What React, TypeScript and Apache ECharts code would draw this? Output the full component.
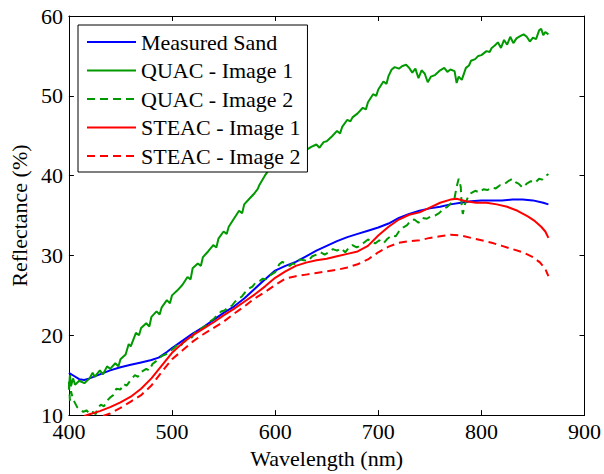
import React, { useEffect, useRef } from "react";
import * as echarts from "echarts";

const xTicks = [400, 500, 600, 700, 800, 900];
const yTicks = [10, 20, 30, 40, 50, 60];

const seriesNames = [
  "Measured Sand",
  "QUAC - Image 1",
  "QUAC - Image 2",
  "STEAC - Image 1",
  "STEAC - Image 2",
];

const measuredSand: [number, number][] = [
  [400, 15.3], [405, 14.9], [410, 14.5], [415, 14.4], [420, 14.6], [430, 15.1], [440, 15.6],
  [450, 16.0], [460, 16.3], [470, 16.6], [480, 16.9], [487, 17.2], [495, 17.9], [500, 18.4],
  [510, 19.3], [520, 20.2], [530, 21.0], [540, 21.9], [550, 22.8], [560, 23.6], [570, 24.6],
  [580, 25.8], [590, 27.0], [600, 28.1], [610, 28.7], [620, 29.2], [630, 29.9], [640, 30.6],
  [650, 31.2], [660, 31.8], [670, 32.3], [680, 32.7], [690, 33.1], [700, 33.5], [710, 34.0],
  [720, 34.7], [730, 35.2], [740, 35.6], [750, 35.9], [760, 36.1], [770, 36.4], [780, 36.6],
  [790, 36.8], [800, 36.9], [810, 36.9], [820, 36.9], [830, 37.0], [840, 37.0], [850, 36.9],
  [860, 36.6], [865, 36.4],
];

const quacImage1: [number, number][] = [
  [400, 13.2], [401, 15.0], [402, 13.6], [404, 14.6], [406, 13.8], [410, 14.3], [415, 14.0],
  [420, 14.6], [423, 15.3], [425, 14.8], [430, 15.6], [433, 15.1], [437, 16.1], [440, 15.8],
  [445, 16.5], [448, 16.1], [450, 17.0], [455, 17.6], [458, 18.9], [460, 18.6], [465, 20.3],
  [468, 20.0], [470, 20.9], [475, 21.5], [478, 21.1], [480, 22.3], [485, 23.0], [488, 22.6],
  [490, 23.5], [495, 24.4], [498, 24.0], [500, 25.0], [505, 25.6], [510, 26.3], [515, 27.3],
  [518, 27.0], [520, 28.4], [525, 29.0], [528, 28.7], [530, 29.8], [535, 30.5], [540, 31.3],
  [543, 31.0], [545, 32.1], [550, 33.0], [553, 32.7], [555, 33.6], [560, 34.6], [565, 35.6],
  [568, 35.3], [570, 36.4], [575, 37.1], [580, 37.8], [583, 38.3], [585, 38.9], [590, 40.0],
  [595, 40.9], [600, 41.6], [605, 42.3], [610, 42.7], [615, 42.9], [620, 43.3], [623, 42.9],
  [627, 43.4], [630, 43.2], [635, 43.6], [640, 43.9], [643, 43.5], [647, 44.2], [650, 44.3],
  [655, 44.9], [660, 45.6], [663, 45.3], [665, 46.1], [670, 47.0], [673, 46.8], [675, 47.3],
  [680, 47.8], [685, 48.5], [688, 48.3], [690, 49.2], [695, 50.2], [698, 50.0], [700, 50.8],
  [705, 51.8], [708, 51.5], [710, 52.5], [713, 53.3], [716, 53.6], [720, 53.4], [723, 53.7],
  [727, 53.9], [730, 53.5], [733, 52.9], [736, 53.4], [739, 52.2], [742, 53.2], [745, 52.8],
  [748, 51.7], [751, 52.4], [755, 52.6], [760, 53.2], [764, 53.5], [767, 53.0], [770, 53.3],
  [774, 53.1], [776, 51.6], [778, 52.4], [781, 52.0], [785, 53.5], [788, 53.8], [790, 54.4],
  [794, 54.6], [797, 55.0], [800, 55.1], [805, 55.6], [808, 55.5], [810, 56.0], [813, 56.3],
  [816, 56.7], [819, 56.0], [822, 57.0], [825, 56.4], [828, 57.4], [831, 56.6], [834, 57.2],
  [838, 57.5], [841, 57.7], [844, 57.4], [847, 56.8], [850, 57.3], [853, 57.1], [856, 58.2],
  [858, 58.4], [860, 57.6], [862, 58.0], [865, 57.7],
];

const quacImage2: [number, number][] = [
  [400, 14.2], [401, 11.8], [402, 13.0], [404, 12.0], [406, 11.5], [408, 11.0], [411, 10.7],
  [414, 10.4], [417, 10.6], [420, 10.2], [423, 10.4], [426, 10.1], [428, 10.9], [431, 11.3],
  [434, 11.1], [437, 11.8], [440, 12.2], [443, 12.5], [446, 13.3], [450, 13.2], [453, 13.9],
  [456, 13.7], [460, 14.4], [464, 15.0], [467, 14.8], [470, 15.4], [475, 15.8], [478, 15.6],
  [481, 16.4], [485, 16.8], [490, 17.4], [494, 17.6], [497, 18.0], [500, 18.2], [505, 18.8],
  [508, 18.6], [511, 19.1], [515, 19.5], [519, 19.7], [522, 20.3], [525, 20.5], [530, 21.0],
  [533, 21.2], [535, 21.6], [540, 22.0], [545, 22.7], [548, 23.0], [551, 23.1], [555, 23.6],
  [558, 23.7], [561, 24.2], [565, 24.6], [568, 24.9], [571, 25.4], [574, 25.8], [578, 26.1],
  [581, 26.6], [585, 26.8], [588, 27.1], [591, 27.0], [595, 27.5], [600, 27.9], [604, 28.9],
  [607, 29.2], [610, 29.0], [614, 28.7], [617, 29.0], [620, 28.9], [624, 29.5], [628, 29.4],
  [632, 29.3], [636, 29.9], [640, 30.1], [644, 30.4], [648, 30.1], [652, 30.4], [656, 30.8],
  [660, 30.6], [664, 30.9], [668, 30.4], [671, 30.9], [675, 31.3], [679, 31.0], [682, 31.2],
  [686, 31.6], [690, 32.0], [693, 31.8], [697, 31.5], [701, 31.9], [705, 31.5], [709, 32.1],
  [713, 32.5], [717, 32.4], [720, 33.0], [724, 33.5], [728, 33.8], [731, 34.3], [735, 34.5],
  [739, 34.1], [743, 34.7], [747, 34.6], [751, 34.9], [755, 35.0], [759, 35.3], [763, 35.8],
  [767, 36.1], [771, 36.6], [774, 37.2], [776, 38.6], [778, 39.6], [780, 38.6], [781, 36.0],
  [782, 35.2], [784, 36.4], [787, 37.3], [790, 37.8], [794, 38.1], [798, 37.9], [802, 38.3],
  [806, 38.2], [810, 38.5], [814, 38.4], [818, 38.8], [822, 38.9], [826, 39.3], [830, 39.6],
  [833, 39.2], [836, 39.0], [840, 38.5], [844, 39.0], [848, 39.3], [852, 39.1], [856, 39.6],
  [859, 39.5], [862, 39.9], [865, 40.2],
];

const steacImage1: [number, number][] = [
  [415, 9.9], [420, 10.1], [430, 10.5], [440, 11.0], [450, 11.6], [460, 12.3], [470, 13.3],
  [480, 14.6], [490, 16.2], [500, 17.8], [510, 19.0], [520, 20.0], [530, 20.8], [540, 21.6],
  [550, 22.5], [560, 23.3], [570, 24.2], [580, 25.1], [590, 26.1], [600, 27.2], [610, 28.0],
  [620, 28.7], [630, 29.1], [640, 29.4], [650, 29.6], [660, 29.9], [670, 30.2], [680, 30.5],
  [690, 31.2], [700, 32.5], [710, 33.6], [720, 34.5], [730, 35.1], [740, 35.4], [750, 36.0],
  [760, 36.6], [770, 37.0], [776, 37.1], [785, 36.8], [795, 36.6], [805, 36.6], [815, 36.4],
  [825, 36.1], [835, 35.6], [845, 34.9], [852, 34.3], [858, 33.6], [862, 33.0], [865, 32.2],
];

const steacImage2: [number, number][] = [
  [433, 9.9], [440, 10.2], [450, 10.9], [460, 11.7], [470, 12.5], [480, 13.7], [490, 15.4],
  [500, 17.0], [510, 18.1], [520, 19.2], [530, 20.1], [540, 20.9], [550, 21.7], [560, 22.7],
  [570, 23.6], [580, 24.6], [590, 25.4], [600, 26.3], [610, 27.1], [620, 27.4], [630, 27.6],
  [640, 27.8], [650, 28.0], [660, 28.2], [670, 28.5], [680, 28.9], [690, 29.5], [700, 30.4],
  [710, 31.1], [720, 31.6], [730, 31.8], [740, 31.9], [750, 32.2], [760, 32.4], [770, 32.6],
  [780, 32.5], [790, 32.2], [800, 31.9], [810, 31.6], [820, 31.2], [830, 30.8], [840, 30.4],
  [850, 29.8], [857, 29.1], [862, 28.3], [865, 27.4],
];

const FONT = "Liberation Serif";
const FS = 22;
const BLUE = "#0000ff";
const GREEN = "#009a00";
const RED = "#ff0000";

export default function App() {
  const ref = useRef<HTMLDivElement>(null);

  useEffect(() => {
    const el = ref.current;
    if (!el) return;
    const chart = echarts.init(el, undefined, { renderer: "svg" });

    const mkAxisLine = () => ({ show: true, onZero: false, lineStyle: { color: "#000", width: 1 } });
    const mkTick = () => ({ show: true, inside: true, length: 5, lineStyle: { color: "#000", width: 1 } });

    const mk = (
      name: string,
      data: [number, number][],
      color: string,
      dashed: boolean
    ) => ({
      name,
      type: "line",
      data,
      showSymbol: false,
      symbol: "none",
      lineStyle: { color, width: 2, type: dashed ? [8, 5] : "solid" },
      itemStyle: { color },
    });

    chart.setOption({
      animation: false,
      textStyle: { fontFamily: FONT },
      grid: { left: 66, right: 19, top: 16, bottom: 52 },
      legend: {
        orient: "vertical",
        left: 78,
        top: 25,
        padding: [6, 7, 5, 8],
        itemGap: 6.5,
        itemWidth: 49,
        itemHeight: 22,
        backgroundColor: "#fff",
        borderColor: "#000",
        borderWidth: 1,
        itemStyle: { opacity: 0 },
        textStyle: { fontFamily: FONT, fontSize: FS, color: "#000" },
        data: seriesNames,
      },
      xAxis: [
        {
          type: "value",
          position: "bottom",
          min: xTicks[0],
          max: xTicks[xTicks.length - 1],
          interval: 100,
          name: "Wavelength (nm)",
          nameLocation: "middle",
          nameGap: 29,
          nameTextStyle: { fontFamily: FONT, fontSize: FS, color: "#000" },
          axisLine: mkAxisLine(),
          axisTick: mkTick(),
          splitLine: { show: false },
          axisLabel: { fontFamily: FONT, fontSize: FS, color: "#000", margin: 5 },
        },
        {
          type: "value",
          position: "top",
          min: xTicks[0],
          max: xTicks[xTicks.length - 1],
          interval: 100,
          axisLine: mkAxisLine(),
          axisTick: mkTick(),
          splitLine: { show: false },
          axisLabel: { show: false },
        },
      ],
      yAxis: [
        {
          type: "value",
          position: "left",
          min: yTicks[0],
          max: yTicks[yTicks.length - 1],
          interval: 10,
          name: "Reflectance (%)",
          nameLocation: "middle",
          nameGap: 32,
          nameTextStyle: { fontFamily: FONT, fontSize: FS, color: "#000" },
          axisLine: mkAxisLine(),
          axisTick: mkTick(),
          splitLine: { show: false },
          axisLabel: { fontFamily: FONT, fontSize: FS, color: "#000", margin: 6 },
        },
        {
          type: "value",
          position: "right",
          min: yTicks[0],
          max: yTicks[yTicks.length - 1],
          interval: 10,
          axisLine: mkAxisLine(),
          axisTick: mkTick(),
          splitLine: { show: false },
          axisLabel: { show: false },
        },
      ],
      series: [
        mk(seriesNames[0], measuredSand, BLUE, false),
        mk(seriesNames[1], quacImage1, GREEN, false),
        mk(seriesNames[2], quacImage2, GREEN, true),
        mk(seriesNames[3], steacImage1, RED, false),
        mk(seriesNames[4], steacImage2, RED, true),
      ],
    });

    // Make sure every text in the SVG uses the serif face.
    const applyFont = () => {
      el.querySelectorAll("text, tspan").forEach((t) => {
        (t as SVGElement).style.fontFamily = "'Liberation Serif', 'Times New Roman', serif";
      });
    };
    applyFont();
    chart.on("finished", applyFont);
    const timer = window.setTimeout(applyFont, 50);

    return () => {
      window.clearTimeout(timer);
      chart.dispose();
    };
  }, []);

  return (
    <div
      ref={ref}
      style={{ position: "absolute", left: 0, top: 0, width: 604, height: 474, background: "#fff" }}
    />
  );
}
